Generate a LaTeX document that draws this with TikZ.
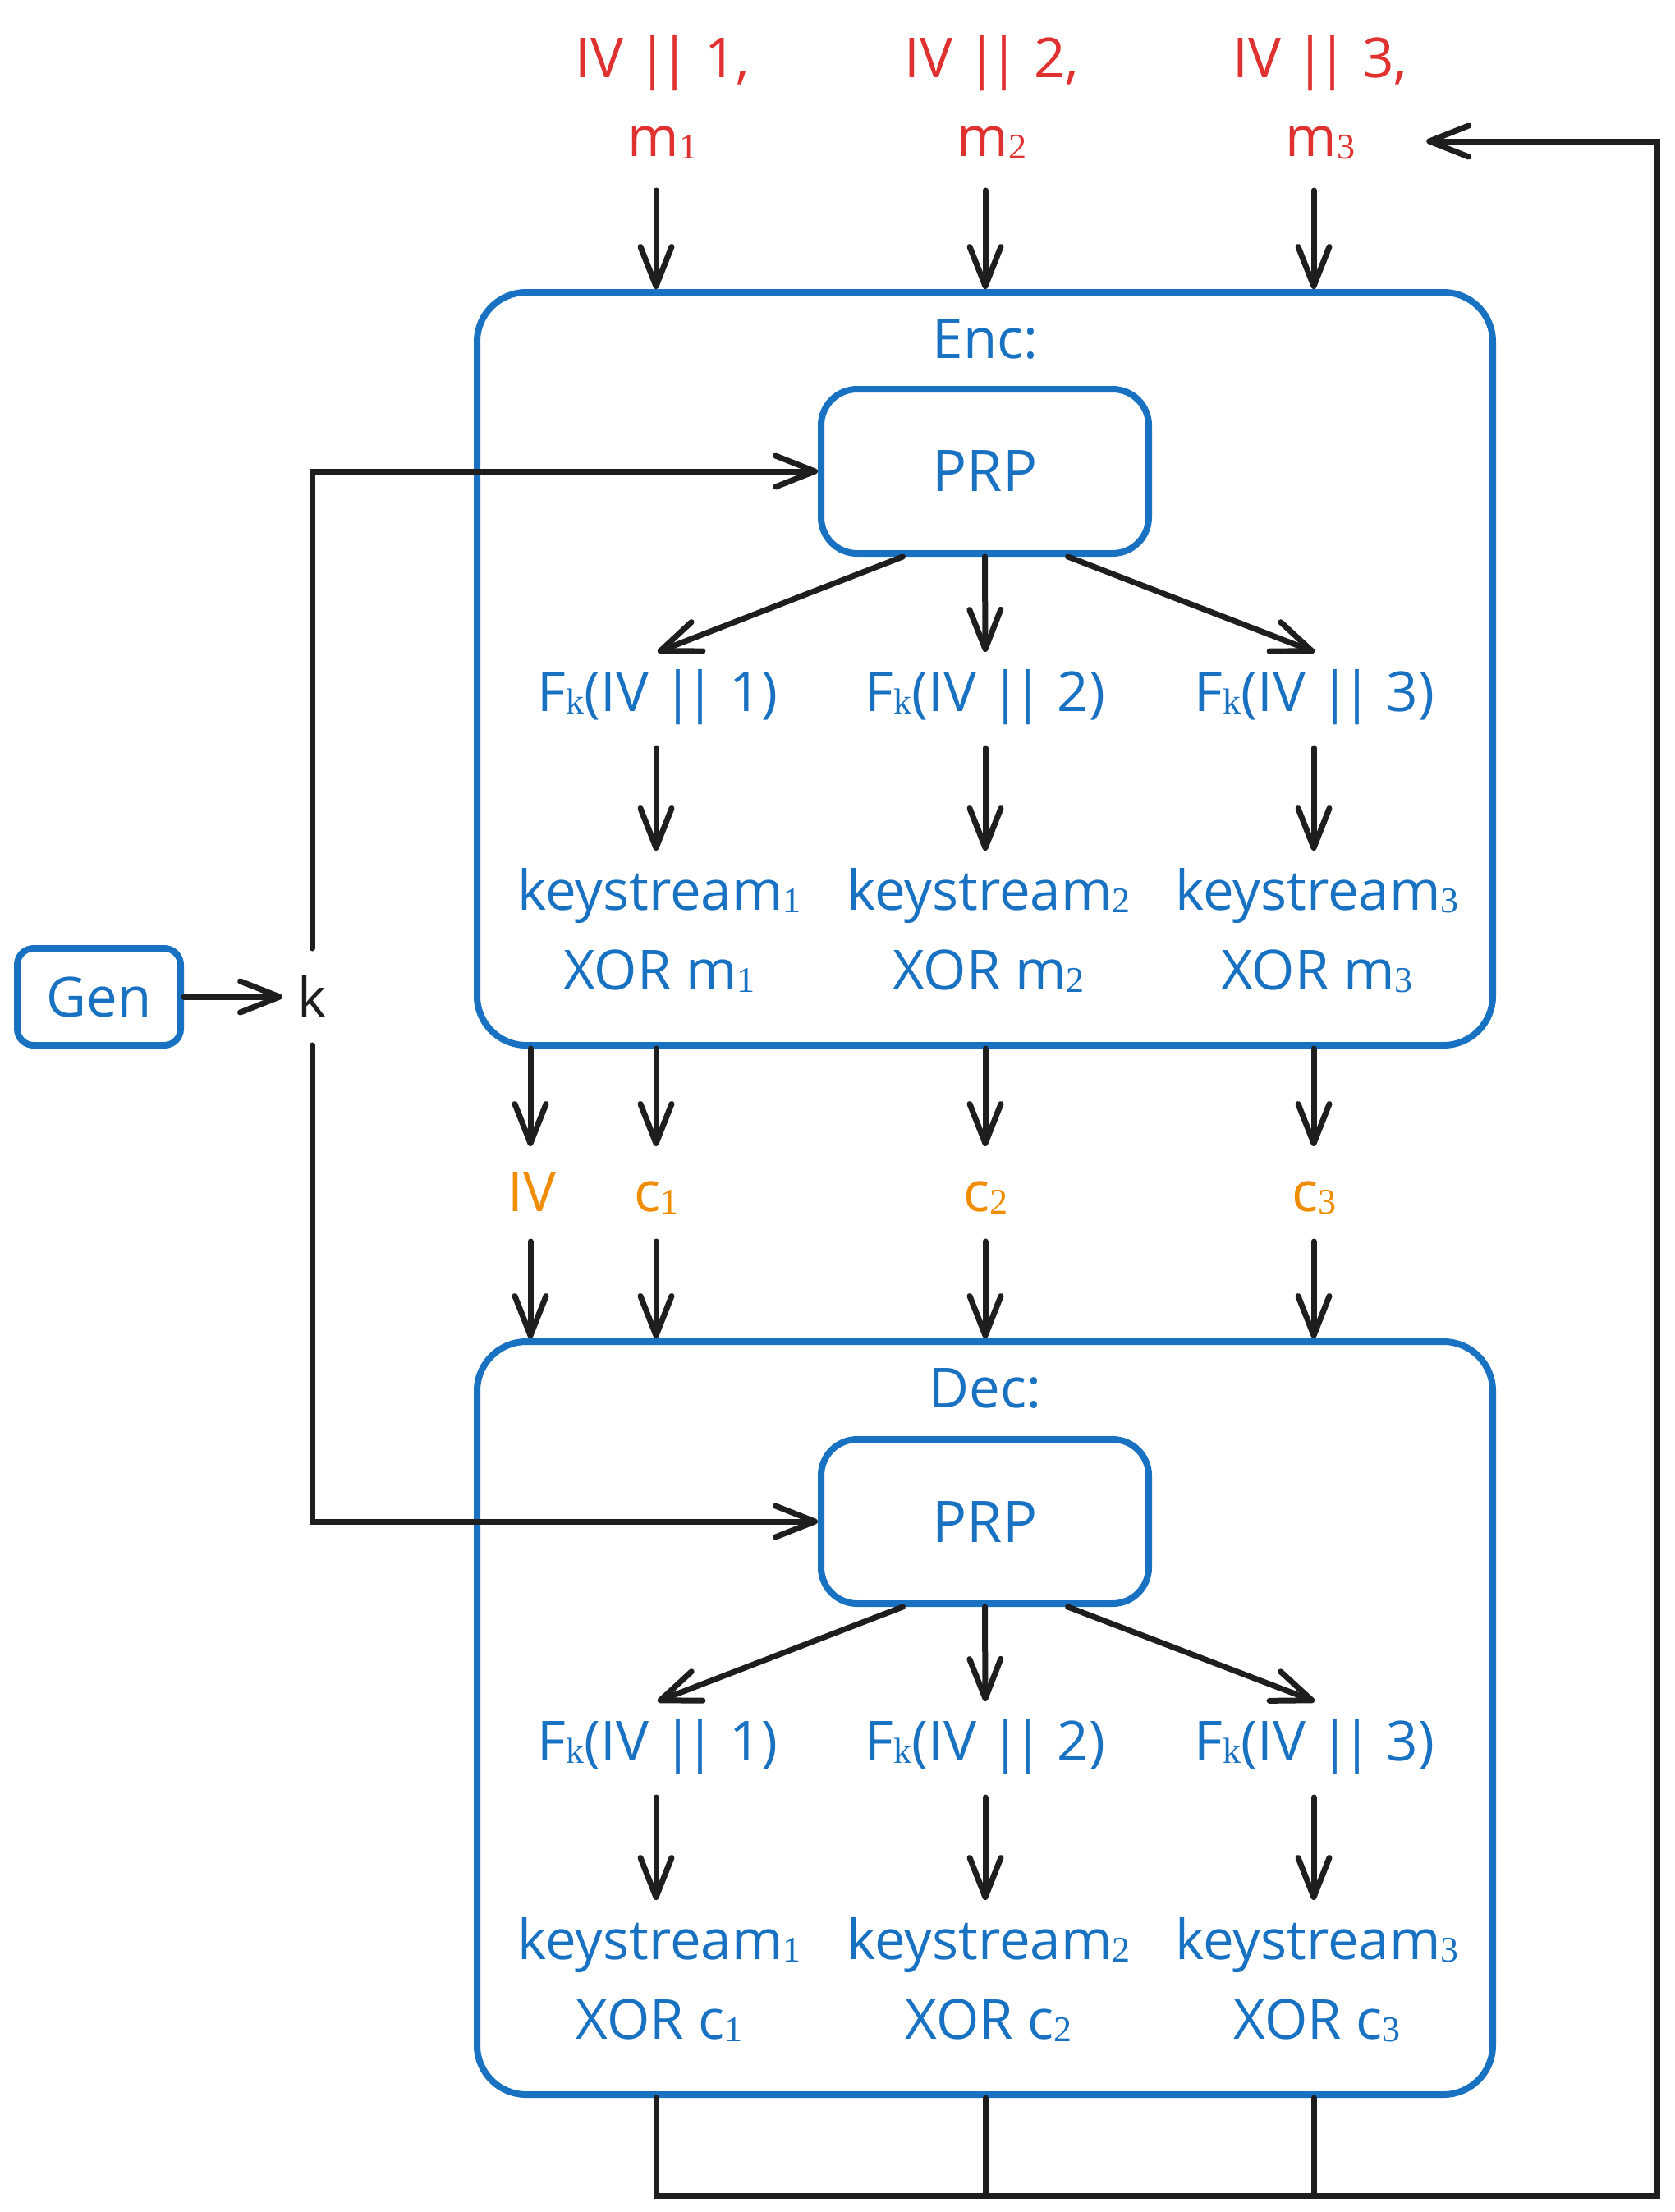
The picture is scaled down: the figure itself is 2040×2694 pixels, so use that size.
\documentclass[tikz,border=0pt]{standalone}
\usepackage{fontspec}
\setmainfont{Open Sans}
\newfontfamily\subserif{Liberation Serif}
\usetikzlibrary{arrows.meta}
\definecolor{eblue}{HTML}{1971C2}
\definecolor{ered}{HTML}{E03131}
\definecolor{eorange}{HTML}{F08C00}
\definecolor{eblack}{HTML}{1E1E1E}
\newcommand\sbs[1]{\raisebox{-1.5pt}{\subserif\fontsize{22pt}{22pt}\selectfont #1}}
\newcommand\dbar{|\kern-5pt|}
\begin{document}
\begin{tikzpicture}[x=0.5pt,y=-0.5pt,
  txt/.style={inner sep=0pt, outer sep=0pt, text height=26pt, text depth=8pt,
    font=\fontsize{33.6pt}{40pt}\selectfont, anchor=base},
  bluetxt/.style={txt, text=eblue},
  redtxt/.style={txt, text=ered},
  oratxt/.style={txt, text=eorange},
  bigbox/.style={draw=eblue, line width=4pt, rounded corners=30pt,
    minimum width=618.5pt, minimum height=458.5pt, inner sep=0pt},
  prpbox/.style={draw=eblue, line width=4pt, rounded corners=22pt, fill=white,
    minimum width=199.5pt, minimum height=100pt, inner sep=0pt, text=eblue,
    font=\fontsize{35pt}{40pt}\selectfont},
  genbox/.style={draw=eblue, line width=4pt, rounded corners=10pt,
    minimum width=99.5pt, minimum height=59pt, inner sep=0pt, text=eblue,
    font=\fontsize{33.6pt}{40pt}\selectfont},
  conn/.style={draw=eblack, line width=3.5pt, line cap=round},
  arr/.style={conn, -{Straight Barb[length=24pt,width=19pt,line cap=round,line join=round]}}
]
\useasboundingbox (0,0) rectangle (2040,2694);

% column reference coordinates
\coordinate (colIV) at (646,0);
\coordinate (col1) at (799,0);
\coordinate (col2) at (1200,0);
\coordinate (col3) at (1600,0);
\coordinate (fb) at (2018,2674);

% inputs
\node[redtxt] (in1a) at (807,94) {IV \dbar{} 1,};
\node[redtxt] (in1b) at (807,190) {m\sbs{1}};
\node[redtxt] (in2a) at (1208,94) {IV \dbar{} 2,};
\node[redtxt] (in2b) at (1208,190) {m\sbs{2}};
\node[redtxt] (in3a) at (1608,94) {IV \dbar{} 3,};
\node[redtxt] (in3b) at (1608,190) {m\sbs{3}};

% Enc
\node[bigbox] (enc) at (1199.5,814.5) {};
\node[bluetxt] (enclab) at (1200,436) {Enc:};
\node[prpbox] (eprp) at (1199.5,574) {PRP};
\node[bluetxt] (efk1) at (801,866) {F\sbs{k}(IV \dbar{} 1)};
\node[bluetxt] (efk2) at (1200,866) {F\sbs{k}(IV \dbar{} 2)};
\node[bluetxt] (efk3) at (1601,866) {F\sbs{k}(IV \dbar{} 3)};
\node[bluetxt] (eks1) at (803,1108) {keystream\sbs{1}};
\node[bluetxt] (eks2) at (1204,1108) {keystream\sbs{2}};
\node[bluetxt] (eks3) at (1604,1108) {keystream\sbs{3}};
\node[bluetxt] (exo1) at (803,1205) {XOR m\sbs{1}};
\node[bluetxt] (exo2) at (1204,1205) {XOR m\sbs{2}};
\node[bluetxt] (exo3) at (1604,1205) {XOR m\sbs{3}};

% transmitted
\node[oratxt] (ivl) at (648,1475) {IV};
\node[oratxt] (cl1) at (799,1475) {c\sbs{1}};
\node[oratxt] (cl2) at (1200,1475) {c\sbs{2}};
\node[oratxt] (cl3) at (1600,1475) {c\sbs{3}};

% Dec
\node[bigbox] (dec) at (1199.5,2092.5) {};
\node[bluetxt] (declab) at (1200,1714) {Dec:};
\node[prpbox] (dprp) at (1199.5,1853) {PRP};
\node[bluetxt] (dfk1) at (801,2144) {F\sbs{k}(IV \dbar{} 1)};
\node[bluetxt] (dfk2) at (1200,2144) {F\sbs{k}(IV \dbar{} 2)};
\node[bluetxt] (dfk3) at (1601,2144) {F\sbs{k}(IV \dbar{} 3)};
\node[bluetxt] (dks1) at (803,2386) {keystream\sbs{1}};
\node[bluetxt] (dks2) at (1204,2386) {keystream\sbs{2}};
\node[bluetxt] (dks3) at (1604,2386) {keystream\sbs{3}};
\node[bluetxt] (dxo1) at (803,2483) {XOR c\sbs{1}};
\node[bluetxt] (dxo2) at (1204,2483) {XOR c\sbs{2}};
\node[bluetxt] (dxo3) at (1604,2483) {XOR c\sbs{3}};

% key generation
\node[genbox] (gen) at (120.5,1214) {Gen};
\node[inner sep=0pt, outer sep=0pt, minimum width=36pt, minimum height=59pt,
  text=eblack, font=\fontsize{33.6pt}{40pt}\selectfont] (k) at (380,1214) {k};

% connectors: inputs
\foreach \i in {1,2,3}{
  \draw[arr, shorten <=13pt] (in\i b.south -| col\i) -- (enc.north -| col\i);
}
% PRP fan-out
\draw[arr] ([xshift=-50pt]eprp.south) -- ([yshift=10pt]efk1.north);
\draw[arr] (eprp.south) -- ([yshift=10pt]efk2.north);
\draw[arr] ([xshift=50.5pt]eprp.south) -- ([yshift=10pt]efk3.north);
\draw[arr] ([xshift=-50pt]dprp.south) -- ([yshift=10pt]dfk1.north);
\draw[arr] (dprp.south) -- ([yshift=10pt]dfk2.north);
\draw[arr] ([xshift=50.5pt]dprp.south) -- ([yshift=10pt]dfk3.north);
% Fk -> keystream
\foreach \i in {1,2,3}{
  \draw[arr, shorten <=14.5pt, shorten >=10pt] (efk\i.south -| col\i) -- (eks\i.north -| col\i);
  \draw[arr, shorten <=14.5pt, shorten >=10pt] (dfk\i.south -| col\i) -- (dks\i.north -| col\i);
}
% Enc -> transmitted -> Dec
\draw[arr, shorten >=13.5pt] (enc.south -| colIV) -- (ivl.north -| colIV);
\draw[arr, shorten <=10.5pt] (ivl.south -| colIV) -- (dec.north -| colIV);
\foreach \i in {1,2,3}{
  \draw[arr, shorten >=13.5pt] (enc.south -| col\i) -- (cl\i.north -| col\i);
  \draw[arr, shorten <=10.5pt] (cl\i.south -| col\i) -- (dec.north -| col\i);
}
% key
\draw[arr] (gen.east) -- (k.west);
\draw[arr] (k.north) |- (eprp.west);
\draw[arr] (k.south) |- (dprp.west);
% feedback
\draw[conn] (dec.south -| col2) -- (col2 |- fb);
\draw[conn] (dec.south -| col3) -- (col3 |- fb);
\draw[arr, shorten >=43.5pt] (dec.south -| col1) -- (col1 |- fb) -- (fb) |- (in3b.east);
\end{tikzpicture}
\end{document}
